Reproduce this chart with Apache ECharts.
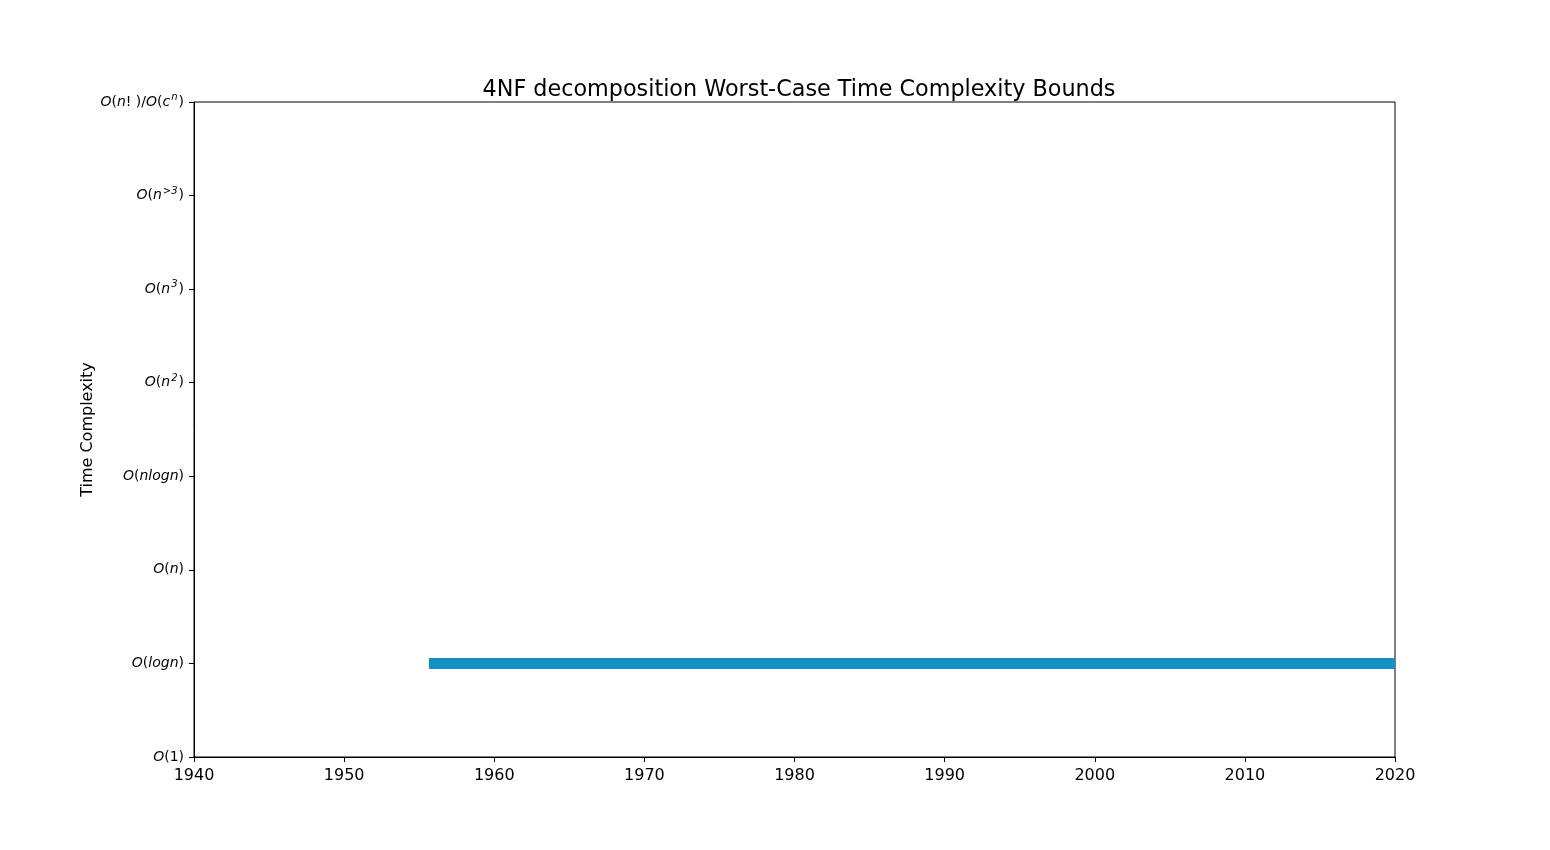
<!DOCTYPE html>
<html>
<head>
<meta charset="utf-8">
<title>4NF decomposition</title>
<script src="https://cdn.jsdelivr.net/npm/echarts@6/dist/echarts.min.js"></script>
<style>
  html, body { margin: 0; padding: 0; background: #fff; }
  #chart { width: 1550px; height: 850px; }
</style>
</head>
<body>
<div id="chart"></div>
<script>
  // complexity classes on the y axis, bottom to top (rich text pieces)
  var yTicks = [
    '{i|O}{n|(1)}',
    '{i|O}{n|(}{i|logn}{n|)}',
    '{i|O}{n|(}{i|n}{n|)}',
    '{i|O}{n|(}{i|nlogn}{n|)}',
    '{i|O}{n|(}{i|n}{s|2}{n|)}',
    '{i|O}{n|(}{i|n}{s|3}{n|)}',
    '{i|O}{n|(}{i|n}{s|>3}{n|)}',
    '{i|O}{n|(}{i|n}{n|! )/}{i|O}{n|(}{i|c}{s|n}{n|)}'
  ]
  var years = [1955.65, 2020]
  var bound = [1, 1]

  var chart = echarts.init(document.getElementById('chart'))
  var lineData = []
  for (var i = 0; i < years.length; i++) {
    lineData.push([years[i], bound[i]])
  }
  var font = 'DejaVu Sans'

  chart.setOption({
    animation: false,
    title: {
      text: '4NF decomposition Worst-Case Time Complexity Bounds',
      left: 794,
      textAlign: 'center',
      top: 74,
      textStyle: { fontFamily: font, fontSize: 22.3, fontWeight: 'normal', color: '#000' }
    },
    grid: {
      left: 194,
      right: 155,
      top: 102,
      bottom: 93,
      show: true,
      borderColor: '#000',
      borderWidth: 1,
      backgroundColor: '#fff'
    },
    xAxis: {
      type: 'value',
      min: 1940,
      max: 2020,
      interval: 10,
      splitLine: { show: false },
      axisLine: { show: true, lineStyle: { color: '#000', width: 1 } },
      axisTick: { show: true, length: 5, lineStyle: { color: '#000' } },
      axisLabel: {
        color: '#000', fontFamily: font, fontSize: 16, margin: 11,
        formatter: function (v) { return String(v) }
      }
    },
    yAxis: {
      type: 'value',
      min: 0,
      max: 7,
      interval: 1,
      name: 'Time Complexity',
      nameLocation: 'middle',
      nameGap: 98,
      nameMoveOverlap: false,
      nameTextStyle: { fontFamily: font, fontSize: 16, color: '#000' },
      splitLine: { show: false },
      axisLine: { show: true, lineStyle: { color: '#000', width: 1 } },
      axisTick: { show: true, length: 5, lineStyle: { color: '#000' } },
      axisLabel: {
        margin: 10,
        formatter: function (v) { return yTicks[Math.round(v)] },
        rich: {
          i: { fontFamily: font, fontStyle: 'italic', fontSize: 14, color: '#000' },
          n: { fontFamily: font, fontSize: 14, color: '#000' },
          s: { fontFamily: font, fontStyle: 'italic', fontSize: 10, color: '#000', verticalAlign: 'bottom', padding: [0, 1, 9, 1] }
        }
      }
    },
    series: [{
      type: 'line',
      data: lineData,
      symbol: 'none',
      lineStyle: { color: '#1491c0', width: 11, cap: 'butt' }
    }]
  })
</script>
</body>
</html>
